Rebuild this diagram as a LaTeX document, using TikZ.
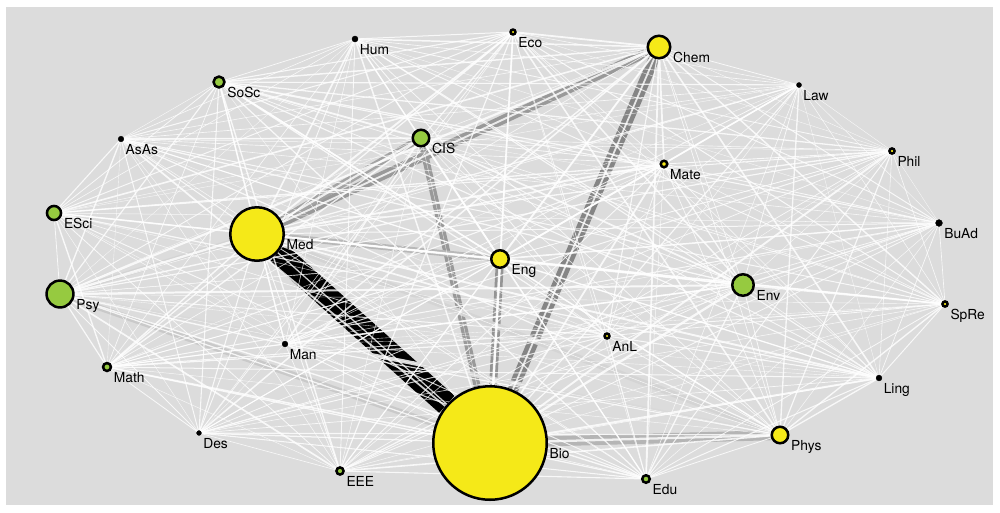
\documentclass[tikz,border=0pt]{standalone}
\usepackage{fontspec}
\newfontfamily\lblfont{TeX Gyre Heros}
\usepackage{tikz}
\usetikzlibrary{calc}
\usepackage{xcolor}
\definecolor{bgray}{RGB}{220,220,220}
\definecolor{vyellow}{RGB}{245,233,24}
\definecolor{vgreen}{RGB}{150,202,64}
\pgfdeclarelayer{bg}
\pgfdeclarelayer{edges}
\pgfsetlayers{bg,edges,main}

\begin{document}
\begin{tikzpicture}[
    x=1pt, y=-1pt,
    vtx/.style={circle, draw=black, line width=2.5pt, inner sep=0pt},
    yv/.style={fill=vyellow},
    gv/.style={fill=vgreen},
    kv/.style={fill=black, line width=0.4pt, minimum size={2*\r*1pt-0.4pt}},
    lbl/.style={anchor=base west, inner sep=0pt, font=\lblfont\fontsize{13.8}{15}\selectfont},
    link/.style={draw=white, draw opacity=0.8},
    bundle/.style={line cap=butt}
    ]
\useasboundingbox (0,0) rectangle (1000,512);
\begin{pgfonlayer}{bg}
\fill[bgray] (6,7) rectangle (993,505);
\end{pgfonlayer}

%vertices: name/x/y/radius/look
\foreach \n/\x/\y/\r/\c in {
    Bio/490/443/58/yv, Med/257/234/28/yv, Psy/60/294/14.7/gv,
    Chem/659/47/12.5/yv, Env/743/285/12/gv, CIS/421/138/9.5/gv,
    Eng/500/259/10/yv, Phys/780/435/9.5/yv, ESci/54/213/8.3/gv,
    SoSc/219/82/6.7/gv, Math/107/367/5.2/gv, EEE/340/471/4.8/gv,
    Edu/646/479/5/gv, Mate/664/164/4.5/yv, Phil/892/151/3.8/yv,
    SpRe/945/304/3.8/yv, BuAd/939/223/3.6/kv, AnL/607/336/3.7/yv,
    Eco/513/32/3.7/yv, Hum/355/39/3.2/kv, AsAs/121/139/3/kv,
    Man/285/344/3.1/kv, Des/199/433/2.6/kv, Law/799/85/2.7/kv,
    Ling/879/378/3.1/kv}
{
  \node[vtx, minimum size={2*\r*1pt-2.5pt}, \c] (\n) at (\x,\y) {};
  \node[lbl] (\n-lab) at ({\x+\r+1.5},{\y+15}) {\n};
}

\begin{pgfonlayer}{edges}
%heavy links
\draw[bundle, line width=23pt, black] (Med) -- (Bio);
\draw[bundle, line width=11pt, black!48] (Chem) -- (Bio);
\draw[bundle, line width=9pt, black!40] (Med) -- (Chem);
\draw[bundle, line width=7pt, black!36] (Med) -- (CIS);
\draw[bundle, line width=7pt, black!40] (CIS) -- (Bio);
\draw[bundle, line width=8pt, black!42] (Eng) -- (Bio);
\draw[bundle, line width=10pt, black!29] (Bio) -- (Phys);
\draw[bundle, line width=6pt, black!28] (Med) -- (Eng);
\draw[bundle, line width=6pt, black!21] (Psy) -- (Bio);
\draw[bundle, line width=6pt, black!17] (Med) -- (Phys);
\draw[bundle, line width=5pt, black!17] (Psy) -- (Med);
\draw[bundle, line width=4pt, black!15] (Psy) -- (Phys);

%all the other links
\def\vlist{Bio/3, Med/3, Psy/2, Chem/2.5, Env/2, CIS/2, Eng/2, Phys/2,
    ESci/1.5, SoSc/1.5, Math/1.2, EEE/1.2, Edu/1, Mate/1, Phil/0.8,
    SpRe/0.8, BuAd/0.8, AnL/1, Eco/1, Hum/1, AsAs/0.8, Man/1, Des/0.8,
    Law/0.8, Ling/0.8}
\pgfmathsetseed{12}
\foreach \a/\wa [count=\i] in \vlist {
  \foreach \b/\wb [count=\j] in \vlist {
    \ifnum\j>\i\relax
      \pgfmathsetmacro\lw{0.3+0.45*(\wa+\wb)*rnd}
      \draw[link, line width=\lw pt] (\a) -- (\b);
    \fi
  }
}
\end{pgfonlayer}
\end{tikzpicture}
\end{document}
